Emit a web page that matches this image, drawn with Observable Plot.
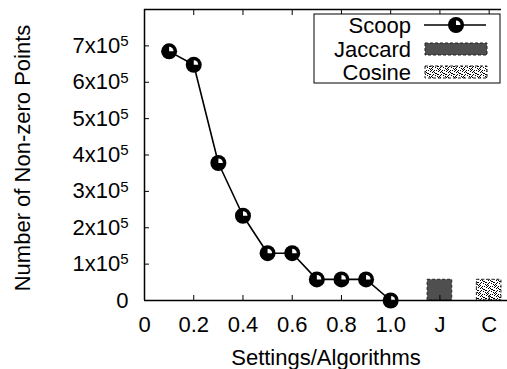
<!DOCTYPE html>
<html>
<head>
<meta charset="utf-8">
<script src="https://cdn.jsdelivr.net/npm/d3@7"></script>
<script src="https://cdn.jsdelivr.net/npm/@observablehq/plot@0.6"></script>
<style>
  html, body { margin: 0; padding: 0; background: #fff; }
  svg { font-family: "Liberation Sans", Arial, sans-serif; }
</style>
</head>
<body>
<div id="chart"></div>
<script>
// ---- data ----
const settings = [0.1, 0.2, 0.3, 0.4, 0.5, 0.6, 0.7, 0.8, 0.9, 1.0];
const scoop = [685000, 648000, 378000, 233000, 130000, 130000, 58000, 58000, 58000, 0];
const algorithms = ["Jaccard", "Cosine"];
const algorithmPositions = [1.2, 1.4];
const algorithmValues = [57000, 57000];
const seriesNames = ["Scoop", "Jaccard", "Cosine"];
const xTickValues = [0, 0.2, 0.4, 0.6, 0.8, 1.0, 1.2, 1.4];
const xTickLabels = ["0", "0.2", "0.4", "0.6", "0.8", "1.0", "J", "C"];
const yTickValues = [0, 100000, 200000, 300000, 400000, 500000, 600000, 700000];
const xLabel = "Settings/Algorithms";
const yLabel = "Number of Non-zero Points";

const scoopData = settings.map((s, i) => ({x: s, y: scoop[i]}));
const barWidth = 0.1;
const algoData = algorithms.map((a, i) => ({
  name: a, x1: algorithmPositions[i] - barWidth / 2, x2: algorithmPositions[i] + barWidth / 2, y: algorithmValues[i]
}));

// quarter-wedge highlight symbol (upper-right quadrant)
const wedge = {
  draw(context, size) {
    const r = Math.sqrt(size / Math.PI);
    context.moveTo(0, 0);
    context.lineTo(r, 0);
    context.arc(0, 0, r, 0, -Math.PI / 2, true);
    context.closePath();
  }
};

const FS = 22;
const plot = Plot.plot({
  width: 507,
  height: 369,
  marginLeft: 144,
  marginTop: 9,
  marginBottom: 69,
  marginRight: 0,
  style: {fontFamily: '"Liberation Sans", Arial, sans-serif', fontSize: FS + "px", color: "#000", background: "#fff"},
  x: {domain: [0, 1.4745]},
  y: {domain: [0, 800000]},
  marks: [
    Plot.rectY(algoData.filter(d => d.name === "Jaccard"), {x1: "x1", x2: "x2", y: "y", fill: "#4f4f4f", stroke: "#222", strokeDasharray: "3,2", strokeWidth: 1}),
    Plot.rectY(algoData.filter(d => d.name === "Cosine"), {x1: "x1", x2: "x2", y: "y", fill: "url(#cosinePat)", stroke: "#222", strokeDasharray: "3,2", strokeWidth: 1}),
    Plot.line(scoopData, {x: "x", y: "y", stroke: "#000", strokeWidth: 1.6}),
    Plot.dot(scoopData, {x: "x", y: "y", r: 8, fill: "#000", stroke: "none"}),
    Plot.dot(scoopData, {x: "x", y: "y", r: 4.5, fill: "#fff", stroke: "none", symbol: wedge}),
    // frame: left, bottom, top
    Plot.ruleX([0], {stroke: "#000", strokeWidth: 1.5}),
    Plot.ruleY([0], {stroke: "#000", strokeWidth: 1.5}),
    Plot.ruleY([800000], {x1: 0, x2: 1.45, stroke: "#000", strokeWidth: 1.5}),
    // axes
    Plot.axisX({ticks: xTickValues, tickFormat: (d, i) => xTickLabels[i], tickSize: -5, tickPadding: 21, fontSize: FS, label: null}),
    Plot.axisX({anchor: "top", ticks: xTickValues, tickFormat: null, text: null, tickSize: -5, label: null}),
    Plot.axisY({ticks: yTickValues, tickFormat: d => d === 0 ? "0" : `${d / 100000}x10^5`, tickSize: -5, tickPadding: 21, fontSize: FS, label: null}),
    Plot.text([xLabel], {frameAnchor: "bottom", textAnchor: "middle", lineAnchor: "middle", dy: 57, dx: 0, fontSize: FS, fill: "#000"}),
    Plot.text([yLabel], {frameAnchor: "left", textAnchor: "middle", lineAnchor: "middle", dx: -122, dy: 3, rotate: -90, fontSize: FS, fill: "#000"})
  ]
});

const svg = d3.select(plot);
// pattern for Cosine
const defs = svg.insert("defs", ":first-child");
const pat = defs.append("pattern").attr("id", "cosinePat").attr("patternUnits", "userSpaceOnUse")
  .attr("width", 8).attr("height", 8);
pat.append("rect").attr("width", 8).attr("height", 8).attr("fill", "#fff");
[[0,0],[2,0],[4,1],[6,2],[1,2],[3,3],[5,4],[7,4],[0,5],[2,6],[4,6],[6,7],[1,7],[3,1],[5,2],[7,6],[0,3],[6,5]].forEach(([px, py]) => {
  pat.append("rect").attr("x", px).attr("y", py).attr("width", 1).attr("height", 1).attr("fill", "#000");
});

// superscripts on y tick labels
svg.selectAll('g[aria-label="y-axis tick label"] text').each(function() {
  const t = d3.select(this);
  const s = t.text();
  if (s.includes("^")) {
    const [base, exp] = s.split("^");
    t.text(base);
    t.append("tspan").attr("dy", "-0.45em").attr("font-size", "15px").text(exp);
  }
});

// legend
const lg = svg.append("g").attr("font-family", '"Liberation Sans", Arial, sans-serif').attr("font-size", FS);
lg.append("rect").attr("x", 314).attr("y", 14).attr("width", 186).attr("height", 69)
  .attr("fill", "#fff").attr("stroke", "#000").attr("stroke-width", 1);
const rowsY = [25, 49, 72];
seriesNames.forEach((n, i) => {
  lg.append("text").attr("x", 411).attr("y", rowsY[i]).attr("dy", "0.35em").attr("text-anchor", "end").attr("fill", "#000").text(n);
});
lg.append("line").attr("x1", 424).attr("x2", 486).attr("y1", rowsY[0]).attr("y2", rowsY[0]).attr("stroke", "#000").attr("stroke-width", 1.6);
lg.append("circle").attr("cx", 456).attr("cy", rowsY[0]).attr("r", 8).attr("fill", "#000");
lg.append("path").attr("transform", `translate(456,${rowsY[0]})`).attr("d", d3.arc()({innerRadius: 0, outerRadius: 4.5, startAngle: 0, endAngle: Math.PI / 2})).attr("fill", "#fff");
lg.append("rect").attr("x", 425).attr("y", 43).attr("width", 62).attr("height", 12)
  .attr("fill", "#4f4f4f").attr("stroke", "#222").attr("stroke-dasharray", "3,2");
lg.append("rect").attr("x", 425).attr("y", 66).attr("width", 62).attr("height", 12)
  .attr("fill", "url(#cosinePat)").attr("stroke", "#222").attr("stroke-dasharray", "3,2");

document.getElementById("chart").appendChild(plot);
</script>
</body>
</html>
